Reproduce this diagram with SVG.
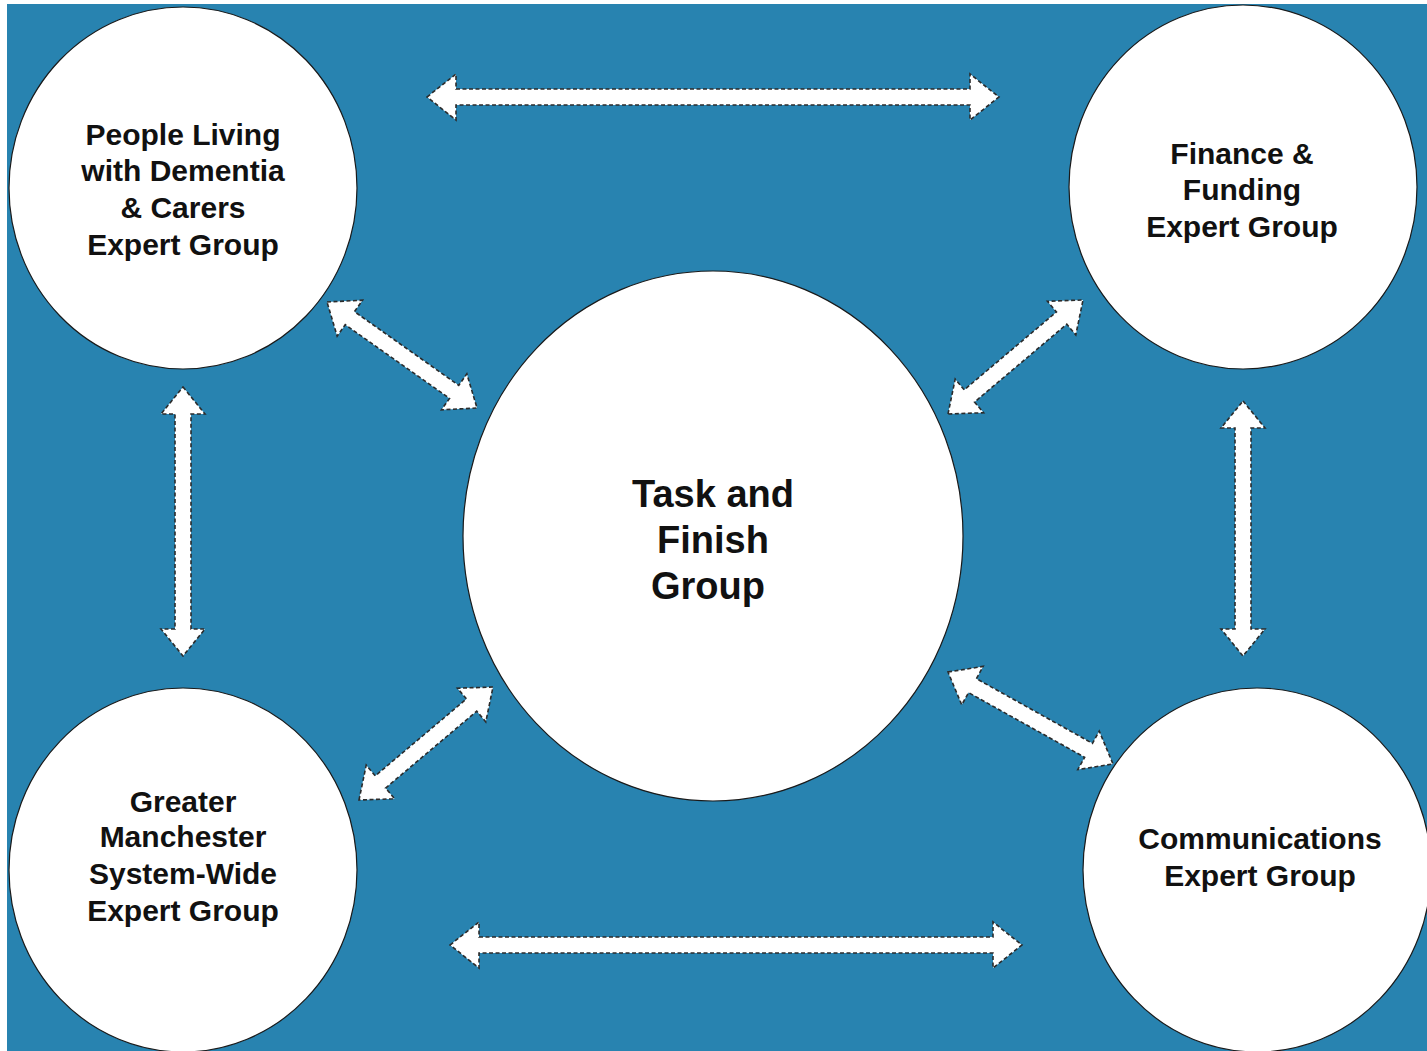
<svg xmlns="http://www.w3.org/2000/svg" width="1427" height="1051" viewBox="0 0 1427 1051">
<style>
.node{fill:#ffffff;stroke:#1a1a1a;stroke-width:1.2}
.arrow{fill:#ffffff;stroke:#2b2b2b;stroke-width:1.6;stroke-dasharray:4 2.5;stroke-linejoin:miter}
.lbl{font-family:"Liberation Sans",Arial,sans-serif;font-weight:bold;font-size:30px;fill:#111111;text-anchor:middle}
.big{font-size:38px}
</style>
<rect x="0" y="0" width="1427" height="1051" fill="#ffffff"/>
<rect x="7" y="4" width="1420" height="1047" fill="#2883B0"/>
<g id="connectors">
<g transform="translate(427,97)"><path class="arrow" d="M0,0 L29,-23 L29,-8 L543,-8 L543,-23 L572,0 L543,23 L543,8 L29,8 L29,23 Z"/></g>
<g transform="translate(450,945)"><path class="arrow" d="M0,0 L29,-23 L29,-8 L543,-8 L543,-23 L572,0 L543,23 L543,8 L29,8 L29,23 Z"/></g>
<g transform="translate(183,387) rotate(90)"><path class="arrow" d="M0,0 L27,-22 L27,-8 L242,-8 L242,-22 L269,0 L242,22 L242,8 L27,8 L27,22 Z"/></g>
<g transform="translate(1243,401) rotate(90)"><path class="arrow" d="M0,0 L27,-22 L27,-8 L228,-8 L228,-22 L255,0 L228,22 L228,8 L27,8 L27,22 Z"/></g>
<g transform="translate(327,302) rotate(35.25)"><path class="arrow" d="M0,0 L28,-22 L28,-8 L155.7,-8 L155.7,-22 L183.7,0 L155.7,22 L155.7,8 L28,8 L28,22 Z"/></g>
<g transform="translate(948,414) rotate(-40.18)"><path class="arrow" d="M0,0 L28,-22 L28,-8 L148.7,-8 L148.7,-22 L176.7,0 L148.7,22 L148.7,8 L28,8 L28,22 Z"/></g>
<g transform="translate(948,672) rotate(29.14)"><path class="arrow" d="M0,0 L28,-22 L28,-8 L160.9,-8 L160.9,-22 L188.9,0 L160.9,22 L160.9,8 L28,8 L28,22 Z"/></g>
<g transform="translate(359,800) rotate(-40.14)"><path class="arrow" d="M0,0 L28,-22 L28,-8 L147.3,-8 L147.3,-22 L175.3,0 L147.3,22 L147.3,8 L28,8 L28,22 Z"/></g>
</g>
<g id="node-people">
<ellipse class="node" cx="183" cy="188" rx="174" ry="181"/>
<text class="lbl" x="183" y="145">People Living</text>
<text class="lbl" x="183" y="181">with Dementia</text>
<text class="lbl" x="183" y="218">&amp; Carers</text>
<text class="lbl" x="183" y="255">Expert Group</text>
</g>
<g id="node-finance">
<ellipse class="node" cx="1243" cy="187" rx="174" ry="182"/>
<text class="lbl" x="1242" y="164">Finance &amp;</text>
<text class="lbl" x="1242" y="200">Funding</text>
<text class="lbl" x="1242" y="237">Expert Group</text>
</g>
<g id="node-task">
<ellipse class="node" cx="713" cy="536" rx="250" ry="265"/>
<text class="lbl big" x="713" y="507">Task and</text>
<text class="lbl big" x="713" y="553">Finish</text>
<text class="lbl big" x="708" y="599">Group</text>
</g>
<g id="node-gm">
<ellipse class="node" cx="183" cy="870" rx="174" ry="182"/>
<text class="lbl" x="183" y="812">Greater</text>
<text class="lbl" x="183" y="847">Manchester</text>
<text class="lbl" x="183" y="884">System-Wide</text>
<text class="lbl" x="183" y="921">Expert Group</text>
</g>
<g id="node-comms">
<ellipse class="node" cx="1257" cy="870" rx="174" ry="182"/>
<text class="lbl" x="1260" y="849">Communications</text>
<text class="lbl" x="1260" y="886">Expert Group</text>
</g>
</svg>
